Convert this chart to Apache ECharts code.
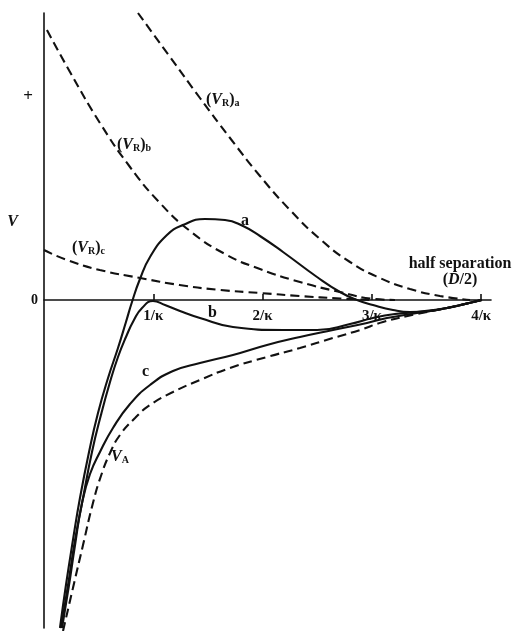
<!DOCTYPE html>
<html>
<head>
<meta charset="utf-8">
<script src="https://cdn.jsdelivr.net/npm/echarts@6/dist/echarts.min.js"></script>
<style>
html,body{margin:0;padding:0;background:#fff;}
#chart{width:513px;height:631px;}
</style>
</head>
<body>
<div id="chart"></div>
<script>
// x in units of 1/kappa, y in arbitrary potential units
const xTickValues = [1, 2, 3, 4];
const xTickLabels = ['1/κ', '2/κ', '3/κ', '4/κ'];
const yTickValues = [0, 7.8, 20.3];
const yTickLabels = ['0', 'V', '+'];

const vRa = [[0.860,28.7],[1.153,24.3],[1.427,20.2],[1.702,16.2],[1.976,12.4],[2.251,9.0],[2.525,6.1],[2.800,3.8],[3.074,2.2],[3.349,1.1],[3.623,0.4],[3.898,0.0]];
const vRb = [[0.027,27.0],[0.238,22.8],[0.512,17.7],[0.787,13.3],[1.061,9.7],[1.336,6.9],[1.656,4.6],[1.976,3.1],[2.342,1.8],[2.708,0.8],[3.028,0.1],[3.211,0.0]];
const vRc = [[0,5.0],[0.21,4.0],[0.51,3.0],[0.88,2.2],[1.24,1.5],[1.61,1.0],[1.98,0.7],[2.34,0.4],[2.71,0.15],[3.0,0.0]];
const vA = [[0.174,-33.1],[0.265,-28.8],[0.357,-24.5],[0.448,-20.3],[0.521,-17.6],[0.604,-15.3],[0.695,-13.5],[0.833,-11.8],[0.970,-10.5],[1.180,-9.2],[1.427,-8.0],[1.702,-6.8],[2.040,-5.7],[2.342,-4.8],[2.644,-3.8],[2.891,-3.0],[3.102,-2.2],[3.413,-1.4],[3.687,-0.8],[4.0,0]];
const curveA = [[0.146,-32.8],[0.201,-28.5],[0.265,-24.0],[0.329,-19.8],[0.412,-15.2],[0.494,-11.3],[0.586,-7.8],[0.677,-4.8],[0.750,-2.2],[0.805,-0.2],[0.878,2.1],[0.970,4.3],[1.125,6.5],[1.272,7.5],[1.473,8.1],[1.656,8.0],[1.821,7.4],[1.976,6.4],[2.187,4.8],[2.498,2.3],[2.708,0.8],[2.864,0.0],[3.010,-0.5],[3.193,-1.0],[3.349,-1.2],[3.532,-1.1],[3.687,-0.8],[3.852,-0.4],[4.007,0.0]];
const curveB = [[0.156,-32.8],[0.220,-28.5],[0.284,-24.0],[0.357,-19.8],[0.439,-15.2],[0.521,-11.5],[0.604,-8.2],[0.677,-5.7],[0.750,-3.7],[0.823,-2.0],[0.897,-0.8],[0.997,-0.1],[1.107,-0.5],[1.244,-1.1],[1.427,-1.8],[1.729,-2.7],[2.187,-3.0],[2.498,-3.0],[2.800,-2.4],[3.010,-1.8],[3.211,-1.4],[3.413,-1.2],[3.687,-0.8],[3.852,-0.4],[4.007,0.0]];
const curveC = [[0.165,-32.8],[0.229,-28.5],[0.284,-24.5],[0.348,-20.3],[0.421,-17.4],[0.512,-15.2],[0.631,-12.8],[0.787,-10.4],[0.970,-8.5],[1.180,-7.1],[1.427,-6.3],[1.729,-5.5],[2.040,-4.5],[2.342,-3.7],[2.644,-3.0],[2.955,-2.3],[3.138,-1.8],[3.413,-1.3],[3.687,-0.8],[4.0,0.0]];

const INK = '#111';
const SERIF = '"Liberation Serif", "DejaVu Serif", serif';

function lineSeries(name, data, dashed) {
  return {
    name: name, type: 'line', data: data, smooth: 0.5, symbol: 'none',
    clip: false, silent: true, xAxisIndex: 0, yAxisIndex: 0,
    lineStyle: { color: INK, width: 2.1, type: dashed ? [9, 5] : 'solid' }
  };
}

const richBase = {
  p: { fontFamily: SERIF, fontWeight: 'bold', fontSize: 16, color: INK },
  v: { fontFamily: SERIF, fontWeight: 'bold', fontStyle: 'italic', fontSize: 16, color: INK },
  s: { fontFamily: SERIF, fontWeight: 'bold', fontSize: 10, color: INK, verticalAlign: 'bottom', padding: [6, 0, 0, 0] }
};

function label(text, x, y, align) {
  return { type: 'text', x: x, y: y, silent: true,
    style: { text: text, rich: richBase, textAlign: align || 'left', textVerticalAlign: 'middle',
      font: 'bold 16px ' + SERIF, fill: INK } };
}

const X_MAX = 4.09;
const chart = echarts.init(document.getElementById('chart'), null, { renderer: 'canvas' });
chart.setOption({
  animation: false,
  backgroundColor: '#fff',
  grid: [
    { left: 44, right: 22, top: 13, bottom: 3, outerBoundsMode: 'none', containLabel: false },
    { left: 44, right: 22, top: 13, bottom: 331, outerBoundsMode: 'none', containLabel: false }
  ],
  xAxis: [
    { type: 'value', gridIndex: 0, min: 0, max: X_MAX, show: false },
    {
      type: 'value', gridIndex: 1, min: 0, max: X_MAX,
      axisLine: { show: true, onZero: false, lineStyle: { color: INK, width: 1.6 } },
      axisTick: { show: true, inside: true, length: 6, customValues: xTickValues, lineStyle: { color: INK, width: 1.6 } },
      axisLabel: { show: true, customValues: xTickValues, margin: 9,
        formatter: function (v) { const i = xTickValues.indexOf(v); return i >= 0 ? xTickLabels[i] : ''; },
        fontFamily: SERIF, fontWeight: 'bold', fontSize: 15, color: INK },
      splitLine: { show: false }
    }
  ],
  yAxis: [
    {
      type: 'value', gridIndex: 0, min: -32.8, max: 28.7,
      axisLine: { show: true, onZero: false, lineStyle: { color: INK, width: 1.6 } },
      axisTick: { show: false },
      axisLabel: { show: true, customValues: yTickValues, margin: 6,
        formatter: function (v) {
          const i = yTickValues.indexOf(v);
          const t = i >= 0 ? yTickLabels[i] : '';
          if (t === 'V') return '{v|V}';
          if (t === '+') return '{p|+}';
          return '{z|' + t + '}';
        },
        rich: {
          z: { fontFamily: SERIF, fontWeight: 'bold', fontSize: 14, color: INK },
          p: { fontFamily: SERIF, fontWeight: 'bold', fontSize: 17, color: INK, padding: [0, 5, 0, 0] },
          v: { fontFamily: SERIF, fontWeight: 'bold', fontStyle: 'italic', fontSize: 16, color: INK, padding: [0, 20, 0, 0] }
        }
      },
      splitLine: { show: false }
    },
    { type: 'value', gridIndex: 1, min: 0, max: 28.7, show: false }
  ],
  series: [
    lineSeries('(VR)a', vRa, true),
    lineSeries('(VR)b', vRb, true),
    lineSeries('(VR)c', vRc, true),
    lineSeries('VA', vA, true),
    lineSeries('a', curveA, false),
    lineSeries('b', curveB, false),
    lineSeries('c', curveC, false)
  ],
  graphic: [
    label('{p|(}{v|V}{s|R}{p|)}{s|a}', 206, 100),
    label('{p|(}{v|V}{s|R}{p|)}{s|b}', 117, 145),
    label('{p|(}{v|V}{s|R}{p|)}{s|c}', 72, 248),
    label('{p|a}', 241, 221),
    label('{p|b}', 208, 313),
    label('{p|c}', 142, 372),
    label('{v|V}{s|A}', 111, 457),
    label('{p|half separation}', 460, 264, 'center'),
    label('{p|(}{v|D}{p|/2)}', 460, 280, 'center')
  ]
});
</script>
</body>
</html>
